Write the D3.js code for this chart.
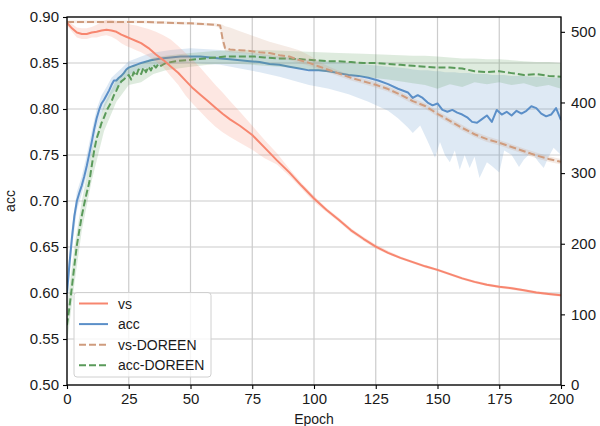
<!DOCTYPE html>
<html><head><meta charset="utf-8">
<script src="https://cdn.jsdelivr.net/npm/d3@7"></script>
<style>body{margin:0;background:#fff}svg{display:block;font-family:"Liberation Sans",Arial,sans-serif}</style>
</head><body><svg id="c" width="600" height="426"></svg>
<script>
// ---- tick labels ----
const xTicks = [0,25,50,75,100,125,150,175,200];
const accTicks = [0.50,0.55,0.60,0.65,0.70,0.75,0.80,0.85,0.90];
const vsTicks = [0,100,200,300,400,500];
const seriesNames = ["vs","acc","vs-DOREEN","acc-DOREEN"];

// ---- vs (right axis) ----
const vsEpochs = [0,2,4,6,8,10,12,14,16,18,20,22,24,26,28,30,33,36,39,42,45,48,51,54,57,60,63,66,70,75,80,85,90,95,100,105,110,115,120,125,130,135,140,145,150,155,160,165,170,175,180,185,190,195,200];
const vsMean = [513,505,499,497,497,499,500,502,503,502,500,496,493,490,487,484,477,468,460,451,442,431,420,411,402,393,384,376,367,354,336,318,301,282,264,248,234,219,207,196,187,180,174,168,163,157,151,146,142,139,137,134,131,129,127];
const vsLo = [509,500,492,490,490,492,492,494,495,493,489,484,480,477,474,471,465,458,450,437,425,410,398,387,376,366,358,351,343,333,321,312,296,278,259,245,231,216,204,193,185,178,172,166,161,155,149,144,140,137,135,132,129,127,125];
const vsHi = [517,511,506,505,505,507,510,514,517,517,515,514,512,510,509,507,504,500,495,489,480,470,460,449,437,425,414,402,387,367,347,328,306,286,268,251,237,222,210,199,190,182,176,170,165,159,153,148,144,141,139,136,133,131,129];

// ---- vs-DOREEN (right axis) ----
const vsdEpochs = [0,10,20,30,40,50,55,60,62,63,64,66,70,74,78,82,86,90,94,98,102,106,110,115,120,125,130,135,140,145,150,155,160,165,170,175,180,185,190,195,200];
const vsdMean = [514,514,514,514,513,512,511,510,509,490,477,475,474,473,471,470,467,465,460,456,451,446,441,435,430,425,419,411,402,395,384,374,364,355,348,343,337,331,325,320,316];
const vsdLo = [512,512,512,512,511,510,509,508,505,480,473,471,470,469,467,465,462,460,456,452,447,442,437,431,426,421,415,407,398,391,380,370,360,351,344,339,333,327,321,316,312];
const vsdHi = [516,516,516,516,515,514,513,512,511,510,508,506,501,496,491,486,482,478,474,467,458,451,445,439,434,429,423,415,406,399,388,378,368,359,352,347,341,335,329,324,320];

// ---- acc (left axis) ----
const accEpochs = d3.range(0,31,1).concat(d3.range(34,139,4), d3.range(140,201,2));
const accMean = [0.600,0.632,0.660,0.684,0.700,0.709,0.717,0.727,0.738,0.751,0.764,0.778,0.790,0.799,0.806,0.810,0.815,0.820,0.826,0.831,0.831,0.834,0.836,0.839,0.843,0.845,0.846,0.847,0.848,0.849,0.850,
 0.853,0.855,0.856,0.857,0.857,0.857,0.856,0.855,0.854,0.853,0.852,0.851,0.849,0.848,0.846,0.844,0.842,0.842,0.841,0.839,0.837,0.836,0.834,0.831,0.827,0.822,0.818,
 0.812,0.815,0.812,0.807,0.804,0.806,0.799,0.797,0.799,0.796,0.794,0.791,0.786,0.785,0.789,0.793,0.786,0.799,0.794,0.797,0.793,0.798,0.795,0.798,0.803,0.801,0.795,0.792,0.794,0.801,0.788];
const accBandEpochs = [0,2,4,6,8,10,12,14,16,18,20,22,25,28,30,34,42,50,62,70,78,86,94,98,106,114,122,130,134,138,140,143,146,149,151,153,155,157,159,161,163,165,167,170,172,175,177,180,183,185,188,191,193,195,197,200];
const accLo = [0.588,0.648,0.690,0.708,0.728,0.752,0.778,0.795,0.806,0.816,0.822,0.828,0.837,0.841,0.843,0.846,0.849,0.850,0.848,0.844,0.840,0.835,0.829,0.826,0.822,0.816,0.808,0.798,0.790,0.780,0.774,0.782,0.765,0.747,0.764,0.750,0.742,0.755,0.734,0.750,0.736,0.748,0.725,0.742,0.738,0.731,0.755,0.750,0.737,0.745,0.753,0.742,0.736,0.748,0.758,0.750];
const accHi = [0.612,0.672,0.710,0.727,0.750,0.776,0.800,0.815,0.824,0.834,0.839,0.844,0.852,0.855,0.857,0.861,0.864,0.866,0.864,0.862,0.860,0.857,0.855,0.853,0.852,0.850,0.848,0.846,0.845,0.844,0.843,0.842,0.842,0.841,0.841,0.840,0.840,0.840,0.839,0.839,0.839,0.838,0.838,0.838,0.837,0.837,0.837,0.836,0.836,0.836,0.835,0.835,0.835,0.834,0.834,0.834];

// ---- acc-DOREEN (left axis) ----
const accdEpochs = d3.range(0,39,1).concat([40,44,48,52,56,60,64,68,72,76], d3.range(80,201,5));
const accdMean = [0.565,0.585,0.607,0.630,0.652,0.668,0.684,0.697,0.709,0.720,0.738,0.755,0.768,0.776,0.785,0.791,0.798,0.803,0.808,0.815,0.820,0.826,0.830,0.832,0.835,0.837,0.832,0.840,0.836,0.843,0.838,0.845,0.840,0.846,0.842,0.848,0.845,0.849,0.847,
 0.850,0.852,0.853,0.854,0.855,0.856,0.857,0.857,0.857,0.857,
 0.856,0.855,0.855,0.854,0.853,0.852,0.852,0.851,0.850,0.850,0.849,0.848,0.847,0.846,0.845,0.845,0.844,0.841,0.840,0.841,0.839,0.837,0.838,0.836,0.835];
const accdBandEpochs = [0,3,6,10,15,20,25,30,35,40,50,60,70,80,90,100,110,120,130,140,145,150,155,160,165,170,175,180,185,190,195,200];
const accdLo = [0.545,0.610,0.668,0.722,0.776,0.808,0.826,0.829,0.838,0.842,0.846,0.849,0.849,0.847,0.845,0.842,0.838,0.835,0.832,0.828,0.826,0.822,0.827,0.824,0.829,0.827,0.829,0.826,0.828,0.824,0.826,0.822];
const accdHi = [0.585,0.650,0.700,0.755,0.805,0.832,0.846,0.850,0.856,0.858,0.861,0.863,0.864,0.864,0.863,0.862,0.861,0.860,0.859,0.858,0.858,0.857,0.856,0.855,0.855,0.854,0.854,0.853,0.852,0.851,0.851,0.850];

// ---- drawing ----
const svg = d3.select("#c");
const L = 67, R = 561, T = 17, B = 385;
const x = d3.scaleLinear().domain([0,200]).range([L,R]);
const yL = d3.scaleLinear().domain([0.5,0.9]).range([B,T]);
const yR = d3.scaleLinear().domain([0,521]).range([B,T]);

const col = {vs:"#f7866f", acc:"#5b8fc8", vsd:"#cf9c7e", accd:"#5a9a5a"};
const FONT = '"Liberation Sans",Arial,sans-serif';
const LW = 2, DASH = "7,3";

svg.append("defs").append("clipPath").attr("id","clip")
  .append("rect").attr("x",L).attr("y",T).attr("width",R-L).attr("height",B-T);

// grid
const grid = svg.append("g");
grid.selectAll(".gx").data(xTicks).join("line")
  .attr("x1",d=>x(d)).attr("x2",d=>x(d)).attr("y1",T).attr("y2",B)
  .attr("stroke","#cccccc").attr("stroke-width",1.2);
grid.selectAll(".gy").data(accTicks).join("line")
  .attr("x1",L).attr("x2",R).attr("y1",d=>yL(d)).attr("y2",d=>yL(d))
  .attr("stroke","#cccccc").attr("stroke-width",1.2);

const plot = svg.append("g").attr("clip-path","url(#clip)");

function band(ep, lo, hi, ys, color){
  const data = ep.map((e,i)=>({e, lo:lo[i], hi:hi[i]}));
  plot.append("path").datum(data)
    .attr("d", d3.area().x(d=>x(d.e)).y0(d=>ys(d.lo)).y1(d=>ys(d.hi)))
    .attr("fill", color).attr("fill-opacity",0.2).attr("stroke","none");
}
function line(ep, vals, ys, color, dash){
  const data = ep.map((e,i)=>({e, v:vals[i]}));
  plot.append("path").datum(data)
    .attr("d", d3.line().x(d=>x(d.e)).y(d=>ys(d.v)))
    .attr("fill","none").attr("stroke",color).attr("stroke-width",LW)
    .attr("stroke-dasharray", dash ? DASH : null).attr("stroke-linejoin","round");
}

band(accBandEpochs, accLo, accHi, yL, col.acc);
line(accEpochs, accMean, yL, col.acc, false);
band(accdBandEpochs, accdLo, accdHi, yL, col.accd);
line(accdEpochs, accdMean, yL, col.accd, true);
band(vsEpochs, vsLo, vsHi, yR, col.vs);
line(vsEpochs, vsMean, yR, col.vs, false);
band(vsdEpochs, vsdLo, vsdHi, yR, col.vsd);
line(vsdEpochs, vsdMean, yR, col.vsd, true);

// axes
function styleAxis(g){
  g.select(".domain").remove();
  g.selectAll(".tick line").attr("stroke","#000").attr("stroke-width",1.1);
  g.selectAll(".tick text").attr("fill","#1a1a1a").attr("font-size",15).attr("font-family",FONT);
}
svg.append("g").attr("transform",`translate(${L},0)`)
  .call(d3.axisLeft(yL).tickValues(accTicks).tickFormat(d3.format(".2f")).tickSize(4).tickPadding(4))
  .call(styleAxis);
svg.append("g").attr("transform",`translate(${R},0)`)
  .call(d3.axisRight(yR).tickValues(vsTicks).tickFormat(d3.format("d")).tickSize(4).tickPadding(6))
  .call(styleAxis);
svg.append("g").attr("transform",`translate(0,${B})`)
  .call(d3.axisBottom(x).tickValues(xTicks).tickFormat(d3.format("d")).tickSize(4).tickPadding(4))
  .call(styleAxis);

// spines
svg.append("rect").attr("x",L).attr("y",T).attr("width",R-L).attr("height",B-T)
  .attr("fill","none").attr("stroke","#000").attr("stroke-width",1.3);

// axis labels
svg.append("text").attr("x",(L+R)/2).attr("y",424).attr("text-anchor","middle")
  .attr("font-size",14).attr("fill","#1a1a1a").attr("font-family",FONT).text("Epoch");
svg.append("text").attr("transform",`translate(15,${(T+B)/2}) rotate(-90)`).attr("text-anchor","middle")
  .attr("font-size",14).attr("fill","#1a1a1a").attr("font-family",FONT).text("acc");

// legend
const lg = svg.append("g");
lg.append("rect").attr("x",74).attr("y",292.5).attr("width",137).attr("height",84.5).attr("rx",3)
  .attr("fill","#fff").attr("fill-opacity",0.8).attr("stroke","#d0d0d0").attr("stroke-width",1);
const lgColors = [col.vs, col.acc, col.vsd, col.accd];
const lgDash = [false,false,true,true];
seriesNames.forEach((n,i)=>{
  const yy = 303.5 + i*20.6;
  lg.append("line").attr("x1",79).attr("x2",108).attr("y1",yy).attr("y2",yy)
    .attr("stroke",lgColors[i]).attr("stroke-width",LW).attr("stroke-dasharray",lgDash[i]?DASH:null);
  lg.append("text").attr("x",118).attr("y",yy+5).attr("font-size",14).attr("fill","#1a1a1a").attr("font-family",FONT).text(n);
});
</script></body></html>
